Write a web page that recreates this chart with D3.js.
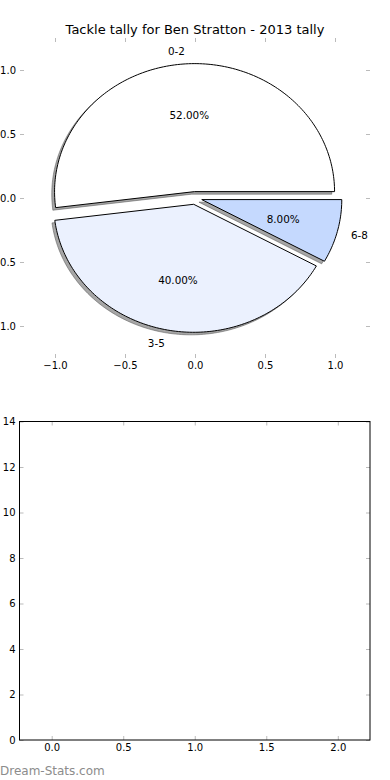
<!DOCTYPE html>
<html>
<head>
<meta charset="utf-8">
<script src="https://cdn.jsdelivr.net/npm/d3@7"></script>
<style>
  body { margin: 0; background: #fff; }
  svg { display: block; font-family: "DejaVu Sans", sans-serif; }
</style>
</head>
<body>
<div id="chart"></div>
<script>
const categories = ["0-2", "3-5", "6-8"];
const shares = [52, 40, 8];
const pieTicks = [-1.0, -0.5, 0.0, 0.5, 1.0];
const barXTicks = [0.0, 0.5, 1.0, 1.5, 2.0];
const barYTicks = [0, 2, 4, 6, 8, 10, 12, 14];

const sliceColors = ["#ffffff", "#ebf1fe", "#c5d9fe"];
const explode = 0.05;
const tickColor = "#bbbbbb";

const svg = d3.select("#chart")
    .append("svg")
    .attr("width", 390)
    .attr("height", 780);

// ---- top: pie ----
const px = d3.scaleLinear().domain([-1.25, 1.25]).range([20, 370]);
const py = d3.scaleLinear().domain([-1.25, 1.25]).range([358, 38]);

svg.append("text")
    .attr("x", 195)
    .attr("y", 34)
    .attr("text-anchor", "middle")
    .style("font-size", "13px")
    .text("Tackle tally for Ben Stratton - 2013 tally");

const arcs = d3.pie().sort(null).startAngle(0).endAngle(2 * Math.PI)(shares);

function wedgePath(cx, cy, a0, a1, ox, oy) {
    const pts = [[cx, cy]];
    const n = Math.max(8, Math.ceil((a1 - a0) / 0.02));
    for (let i = 0; i <= n; i++) {
        const a = a0 + (a1 - a0) * i / n;
        pts.push([cx + Math.cos(a), cy + Math.sin(a)]);
    }
    return d3.line()
        .x(d => px(d[0] + ox))
        .y(d => py(d[1] + oy))
        .curve(d3.curveLinearClosed)(pts);
}

const pieG = svg.append("g");
arcs.forEach((d, i) => {
    const mid = (d.startAngle + d.endAngle) / 2;
    const cx = explode * Math.cos(mid);
    const cy = explode * Math.sin(mid);
    // shadow first, then the wedge
    pieG.append("path")
        .attr("d", wedgePath(cx, cy, d.startAngle, d.endAngle, -0.02, -0.02))
        .attr("fill", "#4d4d4d")
        .attr("fill-opacity", 0.5)
        .attr("stroke", "#4d4d4d")
        .attr("stroke-opacity", 0.5);
    pieG.append("path")
        .attr("d", wedgePath(cx, cy, d.startAngle, d.endAngle, 0, 0))
        .attr("fill", sliceColors[i])
        .attr("stroke", "#000")
        .attr("stroke-width", 1)
        .attr("stroke-linejoin", "round");

    pieG.append("text")
        .attr("x", px(cx + 1.1 * Math.cos(mid)))
        .attr("y", py(cy + 1.1 * Math.sin(mid)))
        .attr("text-anchor", Math.cos(mid) > 0 ? "start" : "end")
        .attr("dominant-baseline", "central")
        .style("font-size", "10.4px")
        .text(categories[i]);

    pieG.append("text")
        .attr("x", px(cx + 0.6 * Math.cos(mid)))
        .attr("y", py(cy + 0.6 * Math.sin(mid)))
        .attr("text-anchor", "middle")
        .attr("dominant-baseline", "central")
        .style("font-size", "10.4px")
        .text(d3.format(".2f")(d.value) + "%");
});

function styleAxis(g) {
    g.select(".domain").remove();
    g.selectAll(".tick line").attr("stroke", tickColor);
    g.selectAll(".tick text").style("font-size", "10px").attr("fill", "#000").style("font-family", "DejaVu Sans");
}

svg.append("g")
    .attr("transform", "translate(0,358)")
    .call(d3.axisBottom(px).tickValues(pieTicks).tickFormat(d3.format(".1f")).tickSizeInner(-4).tickSizeOuter(0).tickPadding(4))
    .call(styleAxis);
svg.append("g")
    .attr("transform", "translate(0,38)")
    .call(d3.axisTop(px).tickValues(pieTicks).tickFormat("").tickSizeInner(-4).tickSizeOuter(0))
    .call(styleAxis);
svg.append("g")
    .attr("transform", "translate(20,0)")
    .call(d3.axisLeft(py).tickValues(pieTicks).tickFormat(d3.format(".1f")).tickSizeInner(-4).tickSizeOuter(0).tickPadding(4))
    .call(styleAxis);
svg.append("g")
    .attr("transform", "translate(370,0)")
    .call(d3.axisRight(py).tickValues(pieTicks).tickFormat("").tickSizeInner(-4).tickSizeOuter(0))
    .call(styleAxis);

// ---- bottom: empty axes ----
const bx = d3.scaleLinear().domain([-0.225, 2.225]).range([19.5, 370]);
const by = d3.scaleLinear().domain([0, 14]).range([740, 421.5]);

svg.append("g")
    .attr("transform", "translate(0,740)")
    .call(d3.axisBottom(bx).tickValues(barXTicks).tickFormat(d3.format(".1f")).tickSizeInner(-4).tickSizeOuter(0).tickPadding(4))
    .call(styleAxis);
svg.append("g")
    .attr("transform", "translate(0,421.5)")
    .call(d3.axisTop(bx).tickValues(barXTicks).tickFormat("").tickSizeInner(-4).tickSizeOuter(0))
    .call(styleAxis);
svg.append("g")
    .attr("transform", "translate(19.5,0)")
    .call(d3.axisLeft(by).tickValues(barYTicks).tickFormat(d3.format("d")).tickSizeInner(-4).tickSizeOuter(0).tickPadding(4))
    .call(styleAxis);
svg.append("g")
    .attr("transform", "translate(370,0)")
    .call(d3.axisRight(by).tickValues(barYTicks).tickFormat("").tickSizeInner(-4).tickSizeOuter(0))
    .call(styleAxis);

svg.append("rect")
    .attr("x", bx(-0.225))
    .attr("y", by(14))
    .attr("width", bx(2.225) - bx(-0.225))
    .attr("height", by(0) - by(14))
    .attr("fill", "none")
    .attr("stroke", "#000")
    .attr("stroke-width", 1);

svg.append("text")
    .attr("x", 0)
    .attr("y", 775)
    .attr("fill", "#8c8c8c")
    .style("font-size", "12px")
    .text("Dream-Stats.com");
</script>
</body>
</html>
